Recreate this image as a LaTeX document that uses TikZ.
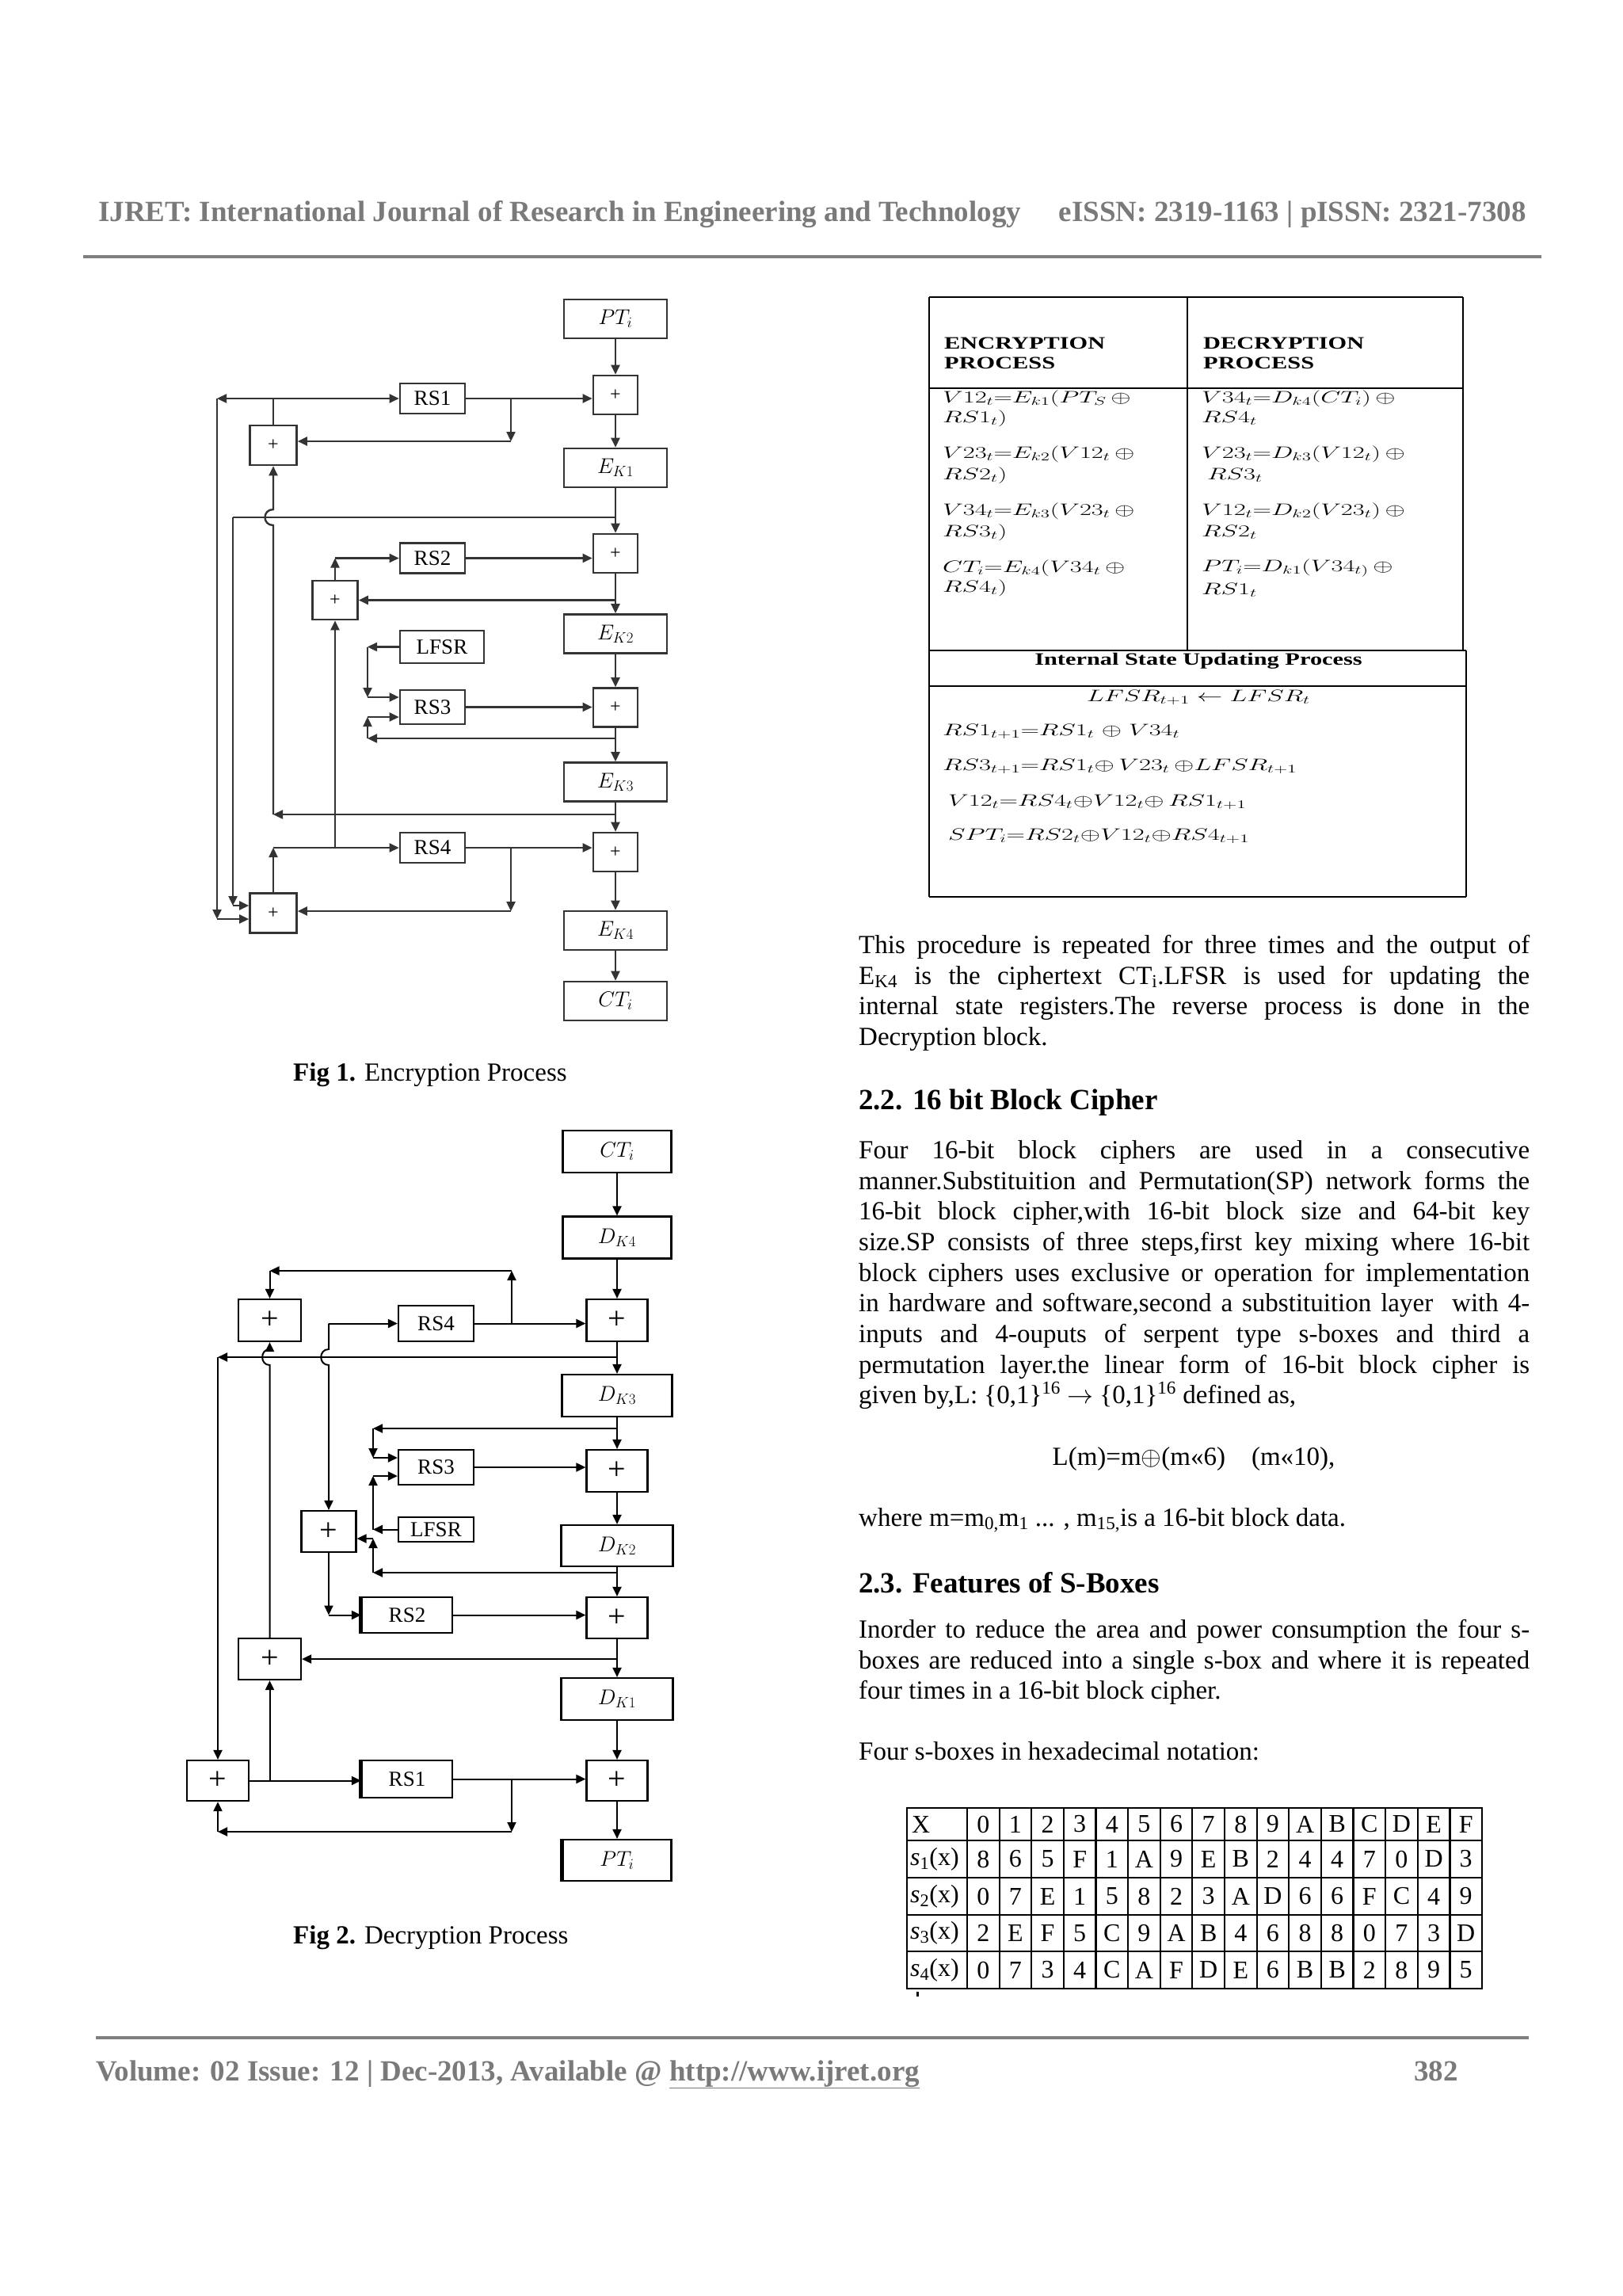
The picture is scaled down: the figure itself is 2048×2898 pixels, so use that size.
\RequirePackage{fix-cm}
\documentclass[tikz,border=0pt]{standalone}
\usepackage{fontspec}
\setmainfont{Liberation Serif}
\newfontfamily\tabfont[FakeStretch=1.38]{Liberation Serif}
\usepackage{graphicx}
\usetikzlibrary{arrows.meta}
\newcommand\myBody{\fontsize{33}{38.7}\selectfont}
\newcommand\myHdr{\fontsize{37}{41}\selectfont\bfseries}
\newcommand\myHead{\fontsize{37}{44}\selectfont\bfseries}
\newcommand\tfs{\fontsize{21}{24}\selectfont}
\newcommand\tmath[1]{\scalebox{1.55}[1]{$#1$}}
\begin{document}
\begin{tikzpicture}[x=1pt,y=-1pt,
  f1box/.style={draw=black!80, line width=2.6pt, rectangle, inner sep=0pt},
  f2box/.style={draw=black, line width=2.2pt, rectangle, inner sep=0pt},
  f1line/.style={draw=black!80, line width=2.4pt},
  f2line/.style={draw=black, line width=2pt},
  tip/.style={-{Triangle[length=12pt,width=11pt]}},
  mbox1/.style={f1box, minimum width=130pt, minimum height=49pt, font=\fontsize{27}{30}\selectfont},
  pbox1/.style={f1box, minimum width=56pt, minimum height=49pt, font=\fontsize{24}{24}\selectfont},
  lpbox1/.style={f1box, minimum width=59pt, minimum height=50pt, font=\fontsize{24}{24}\selectfont},
  rbox1/.style={f1box, minimum width=82pt, minimum height=38pt, font=\fontsize{27}{30}\selectfont},
  mbox2/.style={f2box, minimum width=137pt, minimum height=53pt, font=\fontsize{27}{30}\selectfont},
  pbox2/.style={f2box, minimum width=77pt, minimum height=53pt, font=\fontsize{40}{40}\selectfont},
  rbox2/.style={f2box, minimum width=95pt, minimum height=45pt, font=\fontsize{27}{30}\selectfont},
  para/.style={anchor=north west, text width=847pt, align=justify, inner sep=0pt, font=\myBody},
  tline/.style={line width=2.2pt, black},
  ttxt/.style={anchor=west, inner sep=0pt, font=\tfs},
  sbx/.style={inner sep=0pt, font=\fontsize{32}{36}\selectfont}
]
\useasboundingbox[fill=white] (0,0) rectangle (2048,2898);

% ---------- header / footer ----------
\node[anchor=base west, inner sep=0pt, font=\myHdr, text=black!52] (hdr1) at (124,279) {IJRET: International Journal of Research in Engineering and Technology};
\node[anchor=base east, inner sep=0pt, font=\myHdr, text=black!52] (hdr2) at (1927,279) {eISSN: 2319-1163 | pISSN: 2321-7308};
\draw[black!50, line width=4pt] (105,324) -- (1946,324);
\draw[black!50, line width=4pt] (121,2572) -- (1930,2572);
\node[anchor=base west, inner sep=0pt, font=\myHdr, text=black!52] (ftr1) at (121,2626) {Volume: 02 Issue: 12 | Dec-2013, Available @ \underline{http://www.ijret.org}};
\node[anchor=base east, inner sep=0pt, font=\myHdr, text=black!52] (ftr2) at (1841,2626) {382};

% ---------- Fig 1 ----------
\node[mbox1] (PT1) at (777,402.5) {$PT_i$};
\node[pbox1] (P1) at (777,498.5) {+};
\node[rbox1] (RS1a) at (546,503) {RS1};
\node[lpbox1] (LP1) at (345,562) {+};
\node[mbox1] (EK1) at (777,590.5) {$E_{K1}$};
\node[pbox1] (P2) at (777,698.5) {+};
\node[rbox1] (RS2a) at (546,704.5) {RS2};
\node[lpbox1, minimum width=57pt, minimum height=49pt] (LP2) at (423,757.5) {+};
\node[mbox1] (EK2) at (777,800) {$E_{K2}$};
\node[f1box, minimum width=106pt, minimum height=41pt, font=\fontsize{27}{30}\selectfont] (LF1) at (558,816.5) {LFSR};
\node[rbox1, minimum height=43pt] (RS3a) at (546,892.5) {RS3};
\node[pbox1] (P3) at (777,893) {+};
\node[mbox1] (EK3) at (777,987) {$E_{K3}$};
\node[pbox1] (P4) at (777,1075.5) {+};
\node[rbox1] (RS4a) at (546,1070) {RS4};
\node[lpbox1] (LP4) at (345,1152.5) {+};
\node[mbox1] (EK4) at (777,1174.5) {$E_{K4}$};
\node[mbox1] (CT1) at (777,1263.5) {$CT_i$};

\draw[f1line,tip] (PT1) -- (P1);
\draw[f1line,tip] (P1) -- (EK1);
\draw[f1line,tip] (RS1a.east) -- (RS1a.east -| P1.west);
\coordinate (a1) at (645,503);
\coordinate (a2) at (645,557);
\draw[f1line,tip] (a1) -- (a2);
\draw[f1line,tip] (a2) -- (a2 -| LP1.east);
\coordinate (a3) at (LP1.north |- RS1a.west);
\draw[f1line] (LP1.north) -- (a3);
\draw[f1line,tip] (a3) -- (RS1a.west);
\coordinate (a4) at (274,503);
\coordinate (a5) at (274,1160);
\draw[f1line,tip] (a3) -- (a4);
\draw[f1line,tip] (a4) -- (a5);
\draw[f1line,tip] (a5) -- (a5 -| LP4.west);

\draw[f1line,tip] (EK1) -- (P2);
\coordinate (b1) at (777,653);
\coordinate (b2) at (294,653);
\coordinate (b4) at (294,1143);
\draw[f1line] (b1) -- (b2);
\draw[f1line,tip] (b2) -- (b4);
\draw[f1line,tip] (b4) -- (b4 -| LP4.west);

\coordinate (c1) at (777,1028);
\coordinate (c2) at (345,1028);
\draw[f1line,tip] (c1) -- (c2);
\draw[f1line,tip] (c2) -- (345,663) .. controls (331,663) and (331,643) .. (345,643) -- (LP1.south);

\draw[f1line,tip] (P2) -- (EK2);
\draw[f1line,tip] (P2.south |- LP2.east) -- (LP2.east);
\draw[f1line,tip] (RS2a.east) -- (RS2a.east -| P2.west);
\coordinate (d1) at (LP2.north |- RS2a.west);
\draw[f1line,tip] (LP2.north) -- (d1);
\draw[f1line,tip] (d1) -- (RS2a.west);
\coordinate (d2) at (LP2.south |- RS4a.west);
\draw[f1line,tip] (d2) -- (LP2.south);

\coordinate (e1) at (464,816.5);
\coordinate (e2) at (464,880);
\draw[f1line,tip] (LF1.west) -- (e1);
\draw[f1line,tip] (e1) -- (e2);
\draw[f1line,tip] (e2) -- (e2 -| RS3a.west);
\coordinate (e3) at (777,932);
\coordinate (e4) at (464,932);
\coordinate (e5) at (464,905);
\draw[f1line,tip] (e3) -- (e4);
\draw[f1line,tip] (e4) -- (e5);
\draw[f1line,tip] (e5) -- (e5 -| RS3a.west);
\draw[f1line,tip] (RS3a.east) -- (RS3a.east -| P3.west);
\draw[f1line,tip] (EK2) -- (P3);
\draw[f1line,tip] (P3) -- (EK3);
\draw[f1line,tip] (EK3) -- (P4);
\draw[f1line,tip] (RS4a.east) -- (RS4a.east -| P4.west);
\coordinate (g1) at (645,1070);
\coordinate (g2) at (645,1150);
\draw[f1line,tip] (g1) -- (g2);
\draw[f1line,tip] (g2) -- (g2 -| LP4.east);
\coordinate (g3) at (LP4.north |- RS4a.west);
\draw[f1line,tip] (LP4.north) -- (g3);
\draw[f1line,tip] (g3) -- (RS4a.west);
\draw[f1line,tip] (P4) -- (EK4);
\draw[f1line,tip] (EK4) -- (CT1);

\node[anchor=base west, inner sep=0pt, font=\myBody] (cap1) at (370,1364) {\textbf{Fig 1.} Encryption Process};

% ---------- Fig 2 ----------
\node[mbox2] (CT2) at (779,1453.5) {$CT_i$};
\node[mbox2] (DK4) at (779,1562) {$D_{K4}$};
\node[pbox2] (Q1) at (779,1666.5) {+};
\node[rbox2] (RS4b) at (550.5,1670.5) {RS4};
\node[pbox2, minimum width=79pt] (LQ1) at (340.5,1666.5) {+};
\node[mbox2, minimum width=139pt] (DK3) at (779,1761.5) {$D_{K3}$};
\node[rbox2, minimum height=44pt] (RS3b) at (550.5,1852) {RS3};
\node[pbox2] (Q2) at (779,1856.5) {+};
\node[rbox2, minimum height=31pt] (LF2) at (550.5,1930.5) {LFSR};
\node[pbox2, minimum width=69pt, minimum height=52pt] (LQ2) at (415,1933) {+};
\node[mbox2, minimum width=141pt, minimum height=52pt] (DK2) at (779,1951) {$D_{K2}$};
\node[pbox2, minimum height=52pt] (Q3) at (779,2042) {+};
\node[rbox2, minimum width=114pt] (RS2b) at (514,2038.5) {RS2};
\node[pbox2, minimum width=79pt, minimum height=52pt] (LQ3) at (340.5,2094) {+};
\node[mbox2, minimum width=141pt] (DK1) at (779,2144.5) {$D_{K1}$};
\node[pbox2, minimum width=78pt, minimum height=51pt] (LQ4) at (275,2247.5) {+};
\node[rbox2, minimum width=114pt, minimum height=47pt] (RS1b) at (514,2245.5) {RS1};
\node[pbox2, minimum height=51pt] (Q4) at (779,2247.5) {+};
\node[mbox2, minimum height=52pt] (PT2) at (779,2348) {$PT_i$};
\draw[line width=5pt] (RS2b.north west) -- (RS2b.south west);
\draw[line width=5pt] (RS1b.north west) -- (RS1b.south west);
\draw[line width=5pt] (PT2.north west) -- (PT2.south west);

\draw[f2line,tip] (CT2) -- (DK4);
\draw[f2line,tip] (DK4) -- (Q1);
\draw[f2line,tip] (Q1) -- (DK3);
\draw[f2line,tip] (DK3) -- (Q2);
\draw[f2line,tip] (Q2) -- (DK2);
\draw[f2line,tip] (DK2) -- (Q3);
\draw[f2line,tip] (Q3) -- (DK1);
\draw[f2line,tip] (DK1) -- (Q4);
\draw[f2line,tip] (Q4) -- (PT2);

\draw[f2line,tip] (RS4b.east) -- (RS4b.east -| Q1.west);
\coordinate (h1) at (646,1670.5);
\coordinate (h2) at (646,1604);
\coordinate (h3) at (340.5,1604);
\draw[f2line,tip] (h1) -- (h2);
\draw[f2line,tip] (h2) -- (h3);
\draw[f2line,tip] (h3) -- (LQ1.north);

\coordinate (k1) at (779,1713);
\coordinate (k2) at (275,1713);
\draw[f2line,tip] (k1) -- (k2);
\draw[f2line,tip] (k2) -- (LQ4.north);
\draw[f2line,tip] (LQ3.north) -- (340.5,1723) .. controls (328,1723) and (328,1703) .. (340.5,1703) -- (LQ1.south);

\coordinate (m1) at (415,1670.5);
\draw[f2line,tip] (m1) -- (RS4b.west);
\draw[f2line,tip] (m1) -- (415,1703) .. controls (402,1703) and (402,1723) .. (415,1723) -- (LQ2.north);

\coordinate (n1) at (779,1803);
\coordinate (n2) at (471,1803);
\coordinate (n3) at (471,1840);
\draw[f2line,tip] (n1) -- (n2);
\draw[f2line,tip] (n2) -- (n3);
\draw[f2line,tip] (n3) -- (n3 -| RS3b.west);
\draw[f2line,tip] (RS3b.east) -- (RS3b.east -| Q2.west);
\coordinate (n4) at (471,1930.5);
\coordinate (n5) at (471,1863);
\draw[f2line,tip] (LF2.west) -- (n4);
\draw[f2line,tip] (n4) -- (n5);
\draw[f2line,tip] (n5) -- (n5 -| RS3b.west);
\coordinate (n6) at (779,1985);
\coordinate (n7) at (471,1985);
\coordinate (n8) at (471,1942);
\draw[f2line,tip] (n6) -- (n7);
\draw[f2line,tip] (n7) -- (n8);
\draw[f2line,tip] (n8) -- (n8 -| LQ2.east);

\coordinate (p1) at (LQ2.south |- RS2b.west);
\draw[f2line,tip] (LQ2.south) -- (p1);
\draw[f2line,tip] (p1) -- (RS2b.west);
\draw[f2line,tip] (RS2b.east) -- (RS2b.east -| Q3.west);
\draw[f2line,tip] (Q3.south |- LQ3.east) -- (LQ3.east);

\draw[f2line,tip] (LQ4.east) -- (LQ4.east -| RS1b.west);
\coordinate (q1) at (LQ3.south |- LQ4.east);
\draw[f2line,tip] (q1) -- (LQ3.south);
\draw[f2line,tip] (RS1b.east) -- (RS1b.east -| Q4.west);
\coordinate (q2) at (646,2245.5);
\coordinate (q3) at (646,2312);
\coordinate (q4) at (275,2312);
\draw[f2line,tip] (q2) -- (q3);
\draw[f2line,tip] (q3) -- (q4);
\draw[f2line,tip] (q4) -- (LQ4.south);

\node[anchor=base west, inner sep=0pt, font=\myBody] (cap2) at (370,2453) {\textbf{Fig 2.} Decryption Process};

% ---------- process table ----------
\draw[tline] (1173,375) -- (1847,375);
\draw[tline] (1173,490) -- (1847,490);
\draw[tline] (1173,375) -- (1173,1132);
\draw[tline] (1847,375) -- (1847,821);
\draw[tline] (1499,375) -- (1499,821);
\draw[tline] (1173,821) -- (1851,821);
\draw[tline] (1173,866) -- (1851,866);
\draw[tline] (1851,821) -- (1851,1132);
\draw[tline] (1173,1132) -- (1851,1132);

\node[anchor=base west, inner sep=0pt, font=\tabfont\bfseries\fontsize{22}{26}\selectfont] (th1) at (1192,440) {ENCRYPTION};
\node[anchor=base west, inner sep=0pt, font=\tabfont\bfseries\fontsize{22}{26}\selectfont] (th2) at (1192,465) {PROCESS};
\node[anchor=base west, inner sep=0pt, font=\tabfont\bfseries\fontsize{22}{26}\selectfont] (th3) at (1519,440) {DECRYPTION};
\node[anchor=base west, inner sep=0pt, font=\tabfont\bfseries\fontsize{22}{26}\selectfont] (th4) at (1519,465) {PROCESS};

\node[ttxt] (en1) at (1190,503) {\tmath{V12_t{=}E_{k1}(PT_S\,{\oplus}}};
\node[ttxt] (en2) at (1190,528) {\tmath{RS1_t)}};
\node[ttxt] (en3) at (1190,573) {\tmath{V23_t{=}E_{k2}(V12_t\,{\oplus}}};
\node[ttxt] (en4) at (1190,600) {\tmath{RS2_t)}};
\node[ttxt] (en5) at (1190,645) {\tmath{V34_t{=}E_{k3}(V23_t\,{\oplus}}};
\node[ttxt] (en6) at (1190,672) {\tmath{RS3_t)}};
\node[ttxt] (en7) at (1190,717) {\tmath{CT_i{=}E_{k4}(V34_t\,{\oplus}}};
\node[ttxt] (en8) at (1190,742) {\tmath{RS4_t)}};
\node[ttxt] (de1) at (1517,503) {\tmath{V34_t{=}D_{k4}(CT_i)\,{\oplus}}};
\node[ttxt] (de2) at (1517,528) {\tmath{RS4_t}};
\node[ttxt] (de3) at (1517,573) {\tmath{V23_t{=}D_{k3}(V12_t)\,{\oplus}}};
\node[ttxt] (de4) at (1524,600) {\tmath{RS3_t}};
\node[ttxt] (de5) at (1517,645) {\tmath{V12_t{=}D_{k2}(V23_t)\,{\oplus}}};
\node[ttxt] (de6) at (1517,672) {\tmath{RS2_t}};
\node[ttxt] (de7) at (1517,717) {\tmath{PT_i{=}D_{k1}(V34_{t)}\,{\oplus}}};
\node[ttxt] (de8) at (1517,745) {\tmath{RS1_t}};

\node[inner sep=0pt, font=\tabfont\bfseries\fontsize{22}{26}\selectfont] (tis) at (1513,834) {Internal State Updating Process};
\node[inner sep=0pt, font=\tfs] (tl1) at (1513,880) {\tmath{LFSR_{t+1}\leftarrow LFSR_t}};
\node[ttxt] (tl2) at (1190,923) {\tmath{RS1_{t+1}{=}RS1_t\;{\oplus}\;V34_t}};
\node[ttxt] (tl3) at (1190,967) {\tmath{RS3_{t+1}{=}RS1_t{\oplus}\,V23_t\,{\oplus}LFSR_{t+1}}};
\node[ttxt] (tl4) at (1197,1012) {\tmath{V12_t{=}RS4_t{\oplus}V12_t{\oplus}\,RS1_{t+1}}};
\node[ttxt] (tl5) at (1197,1055) {\tmath{SPT_i{=}RS2_t{\oplus}V12_t{\oplus}RS4_{t+1}}};

% ---------- body text ----------
\node[para] (para1) at (1084,1176) {\strut This procedure is repeated for three times and the output of\linebreak
E\textsubscript{K4} is the ciphertext CT\textsubscript{i}.LFSR is used for updating the\linebreak
internal state registers.The reverse process is done in the\linebreak
Decryption block.};

\node[anchor=base west, inner sep=0pt, font=\myHead] (h22) at (1084,1400) {2.2. 16 bit Block Cipher};

\node[para] (para2) at (1084,1435) {\strut Four 16-bit block ciphers are used in a consecutive\linebreak
manner.Substituition and Permutation(SP) network forms the\linebreak
16-bit block cipher,with 16-bit block size and 64-bit key\linebreak
size.SP consists of three steps,first key mixing where 16-bit\linebreak
block ciphers uses exclusive or operation for implementation\linebreak
in hardware and software,second a substituition layer\ \ with 4-\linebreak
inputs and 4-ouputs of serpent type s-boxes and third a\linebreak
permutation layer.the linear form of 16-bit block cipher is\linebreak
given by,L: \{0,1\}\textsuperscript{16} $\rightarrow$ \{0,1\}\textsuperscript{16} defined as,};

\node[anchor=base, inner sep=0pt, font=\myBody] (lform) at (1507,1849) {L(m)=m$\oplus$(m«6)\quad(m«10),};
\node[anchor=base west, inner sep=0pt, font=\myBody] (where) at (1084,1926) {where m=m\textsubscript{0,}m\textsubscript{1} ... , m\textsubscript{15,}is a 16-bit block data.};

\node[anchor=base west, inner sep=0pt, font=\myHead] (h23) at (1084,2010) {2.3. Features of S-Boxes};

\node[para] (para3) at (1084,2040) {\strut Inorder to reduce the area and power consumption the four s-\linebreak
boxes are reduced into a single s-box and where it is repeated\linebreak
four times in a 16-bit block cipher.};

\node[anchor=base west, inner sep=0pt, font=\myBody] (fours) at (1084,2221) {Four s-boxes in hexadecimal notation:};

% ---------- s-box table ----------
\draw[line width=2.6pt] (1145,2282) rectangle (1871,2510);
\foreach \yy in {2323,2370,2417,2463} \draw[line width=2.2pt] (1145,\yy) -- (1871,\yy);
\draw[line width=2.2pt] (1221,2282) -- (1221,2510);
\foreach \k in {1,...,15} \draw[line width=2.2pt] ({1221+40.625*\k},2282) -- ({1221+40.625*\k},2510);

\node[sbx, anchor=west] (r0) at (1151,2302.5) {X};
\node[sbx, anchor=west] (r1) at (1149,2346.5) {\textit{s}\textsubscript{1}(x)};
\node[sbx, anchor=west] (r2) at (1149,2393.5) {\textit{s}\textsubscript{2}(x)};
\node[sbx, anchor=west] (r3) at (1149,2440) {\textit{s}\textsubscript{3}(x)};
\node[sbx, anchor=west] (r4) at (1149,2486.5) {\textit{s}\textsubscript{4}(x)};
\foreach \v [count=\c] in {0,1,2,3,4,5,6,7,8,9,A,B,C,D,E,F}
  \node[sbx] (c0-\c) at ({1200.6875+40.625*\c},2302.5) {\v};
\foreach \v [count=\c] in {8,6,5,F,1,A,9,E,B,2,4,4,7,0,D,3}
  \node[sbx] (c1-\c) at ({1200.6875+40.625*\c},2346.5) {\v};
\foreach \v [count=\c] in {0,7,E,1,5,8,2,3,A,D,6,6,F,C,4,9}
  \node[sbx] (c2-\c) at ({1200.6875+40.625*\c},2393.5) {\v};
\foreach \v [count=\c] in {2,E,F,5,C,9,A,B,4,6,8,8,0,7,3,D}
  \node[sbx] (c3-\c) at ({1200.6875+40.625*\c},2440) {\v};
\foreach \v [count=\c] in {0,7,3,4,C,A,F,D,E,6,B,B,2,8,9,5}
  \node[sbx] (c4-\c) at ({1200.6875+40.625*\c},2486.5) {\v};
\fill (1157,2514) rectangle (1160,2520);
\end{tikzpicture}
\end{document}
